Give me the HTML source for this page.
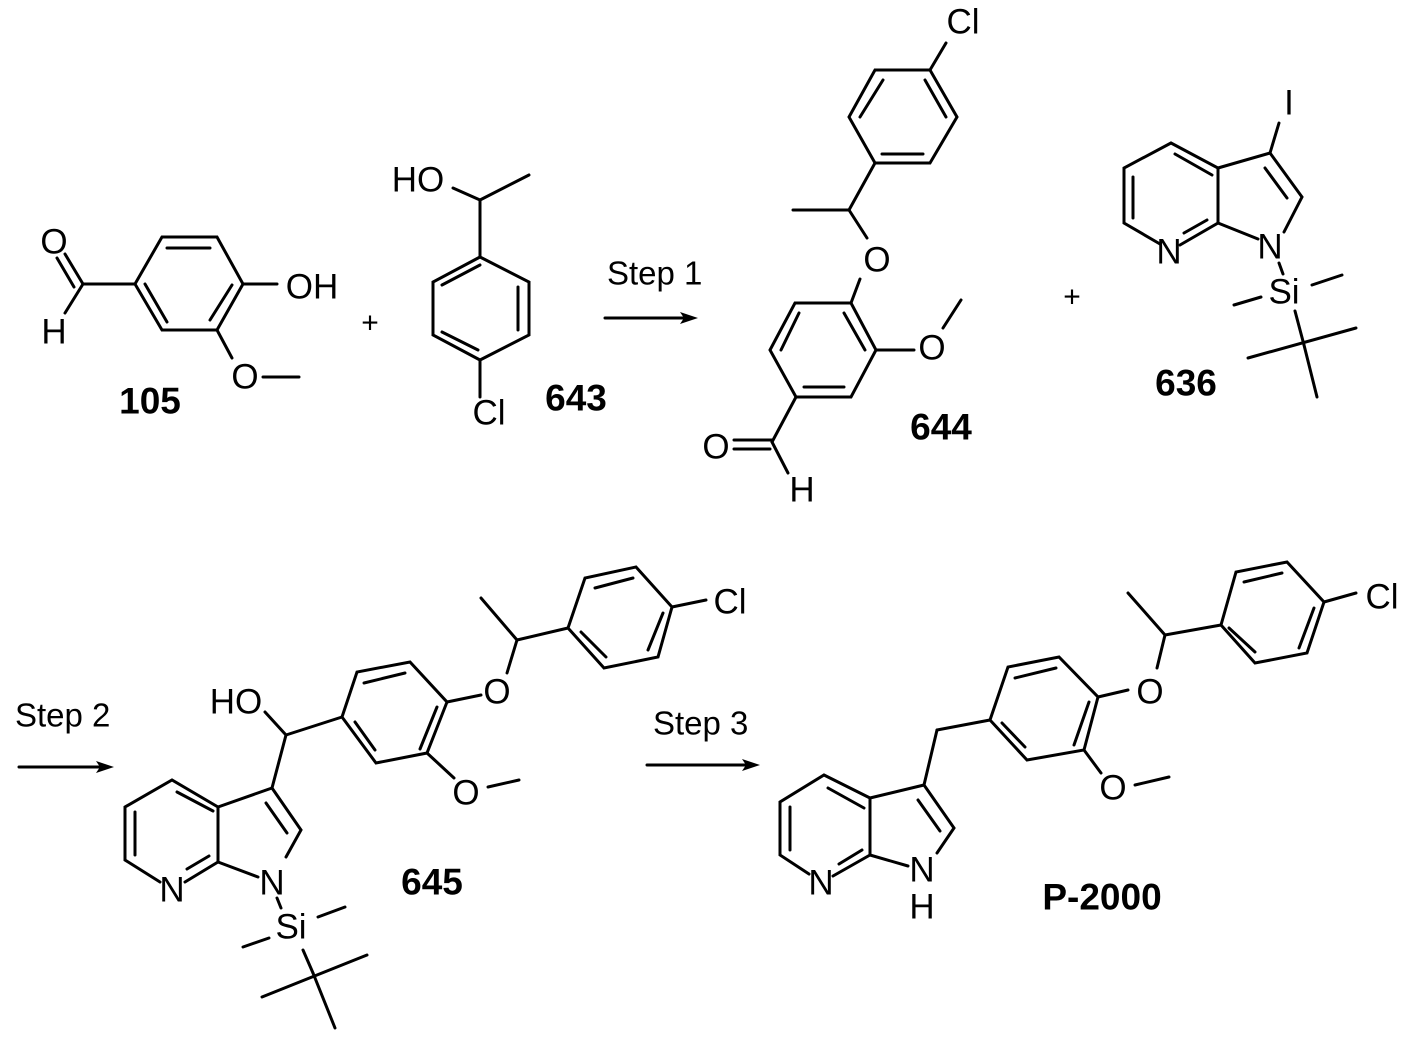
<!DOCTYPE html>
<html><head><meta charset="utf-8"><style>
html,body{margin:0;padding:0;background:#fff}
svg{display:block}
text{font-family:"Liberation Sans",Arial,sans-serif;font-size:35px;fill:#000;text-anchor:middle;dominant-baseline:central}
.b{font-weight:bold;font-size:37px}
.s{text-anchor:start;font-size:33px}
</style></head><body>
<svg width="1415" height="1039" viewBox="0 0 1415 1039" xmlns="http://www.w3.org/2000/svg">
<g stroke="#000" stroke-width="3" fill="none" stroke-linecap="round">
<!-- 105 -->
<polyline points="162,237 217,237 243,284 217,330 162,330 135,284 162,237"/>
<line x1="167" y1="248" x2="210" y2="248"/><line x1="210" y1="320" x2="232" y2="285"/><line x1="145" y1="284" x2="167" y2="322"/>
<line x1="135" y1="284" x2="83" y2="284"/><line x1="83" y1="284" x2="65" y2="254"/><line x1="74" y1="287" x2="57" y2="258"/>
<line x1="83" y1="284" x2="65" y2="313"/>
<line x1="243" y1="284" x2="277" y2="284"/>
<line x1="217" y1="330" x2="232" y2="358"/><line x1="263" y1="377" x2="299" y2="377"/>
<!-- 643 -->
<line x1="453" y1="188" x2="480" y2="200"/><line x1="480" y1="200" x2="529" y2="175"/><line x1="480" y1="200" x2="480" y2="257"/>
<polyline points="480,257 529,282 529,335 480,360 433,335 433,282 480,257"/>
<line x1="442" y1="285" x2="480" y2="265"/><line x1="518" y1="287" x2="518" y2="330"/><line x1="442" y1="332" x2="478" y2="350"/>
<line x1="480" y1="360" x2="480" y2="397"/>
<!-- arrow 1 -->
<line x1="605" y1="318" x2="685" y2="318"/>
<!-- 644 -->
<line x1="930" y1="70" x2="946" y2="43"/>
<polyline points="930,70 875,70 849,117 875,163 930,163 957,117 930,70"/>
<line x1="860" y1="117" x2="883" y2="80"/><line x1="925" y1="80" x2="946" y2="117"/><line x1="882" y1="154" x2="923" y2="154"/>
<line x1="875" y1="163" x2="849" y2="210"/><line x1="849" y1="210" x2="793" y2="210"/><line x1="849" y1="210" x2="867" y2="238"/>
<line x1="860" y1="279" x2="851" y2="303"/>
<polyline points="851,303 795,303 770,350 796,397 851,397 876,350 851,303"/>
<line x1="781" y1="350" x2="799" y2="313"/><line x1="844" y1="313" x2="865" y2="350"/><line x1="804" y1="387" x2="844" y2="387"/>
<line x1="876" y1="350" x2="914" y2="350"/><line x1="943" y1="328" x2="961" y2="300"/>
<line x1="796" y1="397" x2="772" y2="442"/><line x1="734" y1="440" x2="772" y2="440"/><line x1="734" y1="449" x2="770" y2="449"/>
<line x1="772" y1="442" x2="788" y2="473"/>
<!-- 636 -->
<polyline points="1160,244 1124,223 1124,168 1171,143 1218,168 1218,223 1180,245"/>
<line x1="1175" y1="154" x2="1212" y2="175"/><line x1="1133" y1="177" x2="1133" y2="218"/><line x1="1184" y1="233" x2="1207" y2="220"/>
<polyline points="1218,168 1270,153 1302,197 1284,232"/><line x1="1218" y1="223" x2="1258" y2="239"/>
<line x1="1265" y1="168" x2="1287" y2="198"/>
<line x1="1270" y1="153" x2="1279" y2="123"/>
<line x1="1279" y1="263" x2="1283" y2="274"/>
<line x1="1312" y1="285" x2="1342" y2="275"/><line x1="1234" y1="305" x2="1261" y2="297"/>
<line x1="1295" y1="311" x2="1304" y2="345"/><line x1="1248" y1="358" x2="1356" y2="328"/><line x1="1304" y1="345" x2="1317" y2="397"/>
<!-- arrow 2 -->
<line x1="19" y1="767" x2="102" y2="767"/>
<!-- 645 -->
<line x1="265" y1="712" x2="286" y2="735"/><line x1="286" y1="735" x2="342" y2="717"/><line x1="286" y1="735" x2="272" y2="788"/>
<polyline points="342,717 357,672 410,662 447,702 427,753 376,763 342,717"/>
<line x1="364" y1="683" x2="405" y2="673"/><line x1="437" y1="707" x2="420" y2="749"/><line x1="355" y1="722" x2="375" y2="750"/>
<line x1="447" y1="702" x2="481" y2="695"/><line x1="507" y1="673" x2="517" y2="640"/><line x1="517" y1="640" x2="481" y2="598"/><line x1="517" y1="640" x2="568" y2="628"/>
<polyline points="568,628 585,578 636,567 672,607 658,657 604,668 568,628"/>
<line x1="595" y1="588" x2="633" y2="578"/><line x1="663" y1="613" x2="648" y2="650"/><line x1="606" y1="657" x2="581" y2="632"/>
<line x1="672" y1="607" x2="706" y2="600"/>
<line x1="427" y1="753" x2="454" y2="778"/><line x1="488" y1="787" x2="519" y2="780"/>
<polyline points="272,788 301,830 286,857"/><line x1="266" y1="803" x2="287" y2="833"/>
<polyline points="272,788 218,807 172,780 125,807 125,860 160,882"/>
<line x1="218" y1="807" x2="218" y2="862"/><line x1="218" y1="862" x2="185" y2="882"/><line x1="218" y1="862" x2="258" y2="877"/>
<line x1="177" y1="792" x2="213" y2="811"/><line x1="135" y1="812" x2="135" y2="855"/><line x1="187" y1="869" x2="209" y2="856"/>
<line x1="277" y1="898" x2="281" y2="908"/>
<line x1="318" y1="917" x2="345" y2="907"/><line x1="243" y1="947" x2="269" y2="938"/>
<line x1="303" y1="950" x2="313" y2="973"/><line x1="262" y1="997" x2="367" y2="955"/><line x1="313" y1="973" x2="335" y2="1028"/>
<!-- arrow 3 -->
<line x1="647" y1="765" x2="748" y2="765"/>
<!-- P-2000 -->
<polyline points="924,785 954,828 937,853"/><line x1="918" y1="800" x2="940" y2="831"/>
<polyline points="924,785 870,798 824,775 780,802 780,855 809,874"/>
<line x1="870" y1="798" x2="870" y2="855"/><line x1="870" y1="855" x2="833" y2="876"/><line x1="870" y1="855" x2="908" y2="866"/>
<line x1="828" y1="788" x2="864" y2="808"/><line x1="790" y1="807" x2="790" y2="850"/><line x1="839" y1="864" x2="862" y2="850"/>
<line x1="924" y1="785" x2="937" y2="730"/><line x1="937" y1="730" x2="990" y2="720"/>
<polyline points="990,720 1008,667 1059,657 1098,697 1084,750 1027,760 990,720"/>
<line x1="1015" y1="678" x2="1056" y2="668"/><line x1="1089" y1="702" x2="1074" y2="745"/><line x1="1002" y1="723" x2="1025" y2="747"/>
<line x1="1098" y1="697" x2="1128" y2="690"/><line x1="1157" y1="668" x2="1165" y2="635"/><line x1="1165" y1="635" x2="1128" y2="593"/><line x1="1165" y1="635" x2="1221" y2="625"/>
<polyline points="1221,625 1236,572 1287,562 1324,602 1307,653 1255,663 1221,625"/>
<line x1="1244" y1="582" x2="1282" y2="573"/><line x1="1314" y1="608" x2="1299" y2="648"/><line x1="1255" y1="652" x2="1229" y2="628"/>
<line x1="1324" y1="602" x2="1356" y2="593"/>
<line x1="1084" y1="750" x2="1101" y2="773"/><line x1="1135" y1="785" x2="1169" y2="777"/>
</g>
<g fill="#000">
<polygon points="698,318 680,312 684,318 680,324"/>
<polygon points="114,767 96,761 100,767 96,773"/>
<polygon points="760,765 742,759 746,765 742,771"/>
</g>
<text x="54" y="242">O</text><text x="54" y="332">H</text><text x="312" y="287">OH</text><text x="245" y="377">O</text>
<text x="370" y="323" style="font-size:30px">+</text>
<text x="418" y="180">HO</text><text x="489" y="413">Cl</text>
<text x="963" y="22">Cl</text><text x="877" y="260">O</text><text x="932" y="348">O</text><text x="716" y="447">O</text><text x="802" y="490">H</text>
<text x="1072" y="297" style="font-size:30px">+</text>
<text x="1169" y="252">N</text><text x="1270" y="247">N</text><text x="1289" y="103">I</text><text x="1284" y="292">Si</text>
<text x="236" y="702">HO</text><text x="497" y="692">O</text><text x="730" y="602">Cl</text><text x="466" y="793">O</text>
<text x="172" y="890">N</text><text x="272" y="883">N</text><text x="291" y="927">Si</text>
<text x="821" y="883">N</text><text x="922" y="870">N</text><text x="922" y="907">H</text><text x="1150" y="692">O</text><text x="1382" y="597">Cl</text><text x="1113" y="788">O</text>
<text class="b" x="150" y="401">105</text><text class="b" x="576" y="398">643</text><text class="b" x="941" y="427">644</text>
<text class="b" x="1186" y="383">636</text><text class="b" x="432" y="882">645</text><text class="b" x="1102" y="897">P-2000</text>
<text class="s" x="607" y="273">Step 1</text><text class="s" x="15" y="715">Step 2</text><text class="s" x="653" y="723">Step 3</text>
</svg>
</body></html>
